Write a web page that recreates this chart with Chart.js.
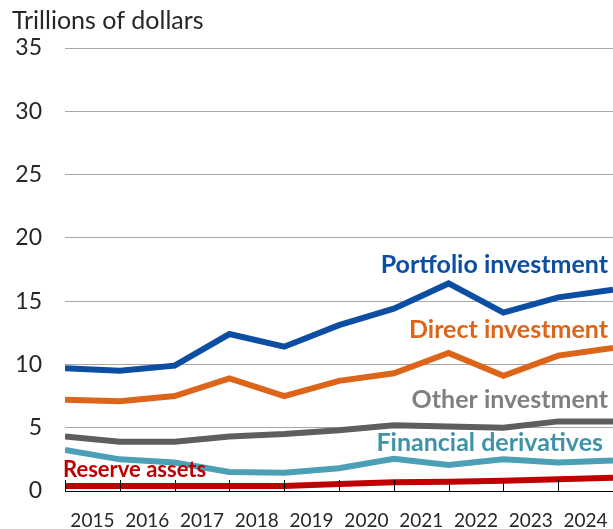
<!DOCTYPE html>
<html>
<head>
<meta charset="utf-8">
<script src="https://cdn.jsdelivr.net/npm/chart.js@4"></script>
<style>
  html, body { margin: 0; padding: 0; background: #fff; }
  #wrap { width: 613px; height: 529px; }
</style>
</head>
<body>
<div id="wrap"><canvas id="chart" width="613" height="529"></canvas></div>
<script>
// year labels sit between the tick marks; values sit on the tick marks
const years = ['2015', '2016', '2017', '2018', '2019', '2020', '2021', '2022', '2023', '2024'];
const portfolio = [9.7, 9.5, 9.9, 12.4, 11.4, 13.1, 14.4, 16.4, 14.1, 15.3, 15.9];
const direct = [7.2, 7.1, 7.5, 8.9, 7.5, 8.7, 9.3, 10.9, 9.1, 10.7, 11.3];
const other = [4.3, 3.9, 3.9, 4.3, 4.5, 4.8, 5.2, 5.1, 5.0, 5.5, 5.5];
const derivatives = [3.25, 2.5, 2.25, 1.5, 1.45, 1.8, 2.55, 2.05, 2.5, 2.25, 2.4];
const reserves = [0.4, 0.4, 0.4, 0.4, 0.4, 0.55, 0.69, 0.74, 0.8, 0.93, 1.05];
const yTicks = [0, 5, 10, 15, 20, 25, 30, 35];

const FONT = 'Lato, "Liberation Sans", sans-serif';

const toPoints = (arr) => arr.map((v, i) => ({ x: i, y: v }));

const series = [
  { label: 'Portfolio investment', data: portfolio, color: '#0B4EA2', textColor: '#0B4EA2', width: 6 },
  { label: 'Direct investment', data: direct, color: '#DD6519', textColor: '#DD6519', width: 6 },
  { label: 'Other investment', data: other, color: '#5E5E5E', textColor: '#808080', width: 6 },
  { label: 'Financial derivatives', data: derivatives, color: '#4BA0B5', textColor: '#3F93A8', width: 6 },
  { label: 'Reserve assets', data: reserves, color: '#C00000', textColor: '#C00000', width: 6 },
];

// text labels next to the lines, and the small inward tick marks on the x axis
const decor = {
  id: 'decor',
  afterDraw(chart) {
    const { ctx, chartArea, scales } = chart;
    const x = scales.x, y = scales.y;
    ctx.save();

    // unit label
    ctx.fillStyle = '#262626';
    ctx.font = '25px ' + FONT;
    ctx.textAlign = 'left';
    ctx.textBaseline = 'middle';
    ctx.fillText('Trillions of dollars', 12, 21);

    // tick marks pointing up from the axis
    ctx.strokeStyle = '#000';
    ctx.lineWidth = 1;
    for (let i = 0; i <= years.length; i++) {
      const px = Math.round(x.getPixelForValue(i)) + 0.5;
      ctx.beginPath();
      ctx.moveTo(px, chartArea.bottom);
      ctx.lineTo(px, chartArea.bottom - 11);
      ctx.stroke();
    }

    // series names
    ctx.textBaseline = 'middle';
    const place = [
      { i: 0, align: 'right', dx: -5, yv: 17.85, size: 25 },
      { i: 1, align: 'right', dx: -5, yv: 12.7, size: 25 },
      { i: 2, align: 'right', dx: -5, yv: 7.2, size: 25 },
      { i: 3, align: 'right', dx: -10, yv: 3.8, size: 25 },
      { i: 4, align: 'left', dx: -2, yv: 1.66, size: 22 },
    ];
    place.forEach((p) => {
      const s = series[p.i];
      ctx.font = 'bold ' + p.size + 'px ' + FONT;
      ctx.fillStyle = s.textColor;
      ctx.textAlign = p.align;
      const px = p.align === 'right' ? chartArea.right + p.dx : chartArea.left + p.dx;
      ctx.fillText(s.label, px, y.getPixelForValue(p.yv));
    });
    ctx.restore();
  },
};

new Chart(document.getElementById('chart'), {
  type: 'line',
  data: {
    datasets: series.map((s) => ({
      label: s.label,
      data: toPoints(s.data),
      borderColor: s.color,
      backgroundColor: s.color,
      borderWidth: s.width,
      pointRadius: 0,
      tension: 0,
      borderJoinStyle: 'miter',
    })),
  },
  options: {
    responsive: false,
    animation: false,
    layout: { padding: { top: 48, right: 0, left: 0, bottom: 0 } },
    plugins: {
      legend: { display: false },
      tooltip: { enabled: false },
    },
    scales: {
      x: {
        type: 'linear',
        min: 0,
        max: years.length,
        afterBuildTicks: (scale) => {
          scale.ticks = years.map((_, i) => ({ value: i + 0.5 }));
        },
        afterFit: (scale) => {
          scale.height = 38;
          scale.paddingLeft = 0;
          scale.paddingRight = 0;
        },
        ticks: {
          autoSkip: false,
          maxRotation: 0,
          padding: 18,
          color: '#262626',
          font: { family: FONT, size: 19 },
          callback: (v) => years[Math.floor(v)],
        },
        grid: { display: false, drawTicks: false },
        border: { display: true, color: '#000', width: 1 },
      },
      y: {
        min: 0,
        max: 35,
        afterBuildTicks: (scale) => {
          scale.ticks = yTicks.map((v) => ({ value: v }));
        },
        afterFit: (scale) => { scale.width = 65; },
        ticks: {
          padding: 23,
          color: '#262626',
          font: { family: FONT, size: 23 },
        },
        grid: { color: '#A6A6A6', lineWidth: 1, drawTicks: false },
        border: { display: false },
      },
    },
  },
  plugins: [decor],
});
</script>
</body>
</html>
